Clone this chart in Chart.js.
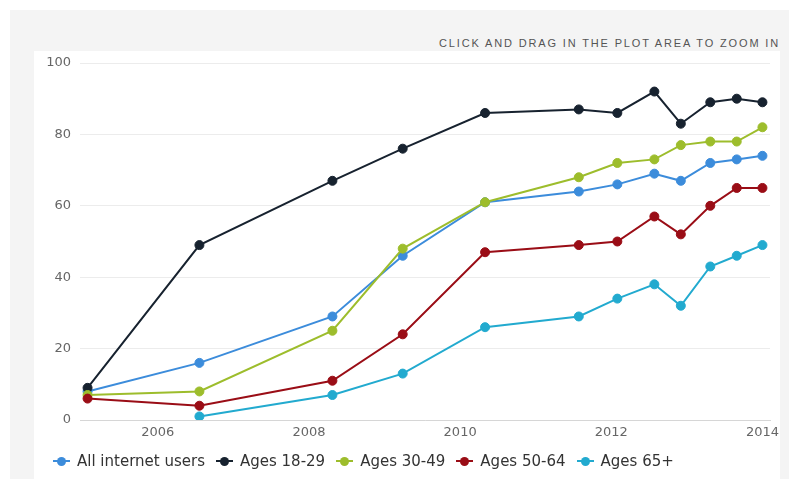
<!DOCTYPE html>
<html>
<head>
<meta charset="utf-8">
<title>Social networking site use by age group</title>
<script src="https://cdn.jsdelivr.net/npm/chart.js@4.4.1/dist/chart.umd.min.js"></script>
<style>
  html, body { margin: 0; padding: 0; background: #fff; }
  #wrap { position: relative; width: 789px; height: 479px; overflow: hidden; }
  #frame { position: absolute; left: 10px; top: 10px; right: 0; bottom: 0; background: #f4f4f4; }
  #panel { position: absolute; left: 34px; top: 51px; width: 746px; bottom: 0; background: #fff; }
  #zoomHint {
    position: absolute; right: 9px; top: 37px;
    font: 11px "Liberation Sans", Arial, sans-serif; letter-spacing: 1.85px;
    color: #555; white-space: nowrap;
  }
  #chart { position: absolute; left: 0; top: 0; }
  #legend {
    position: absolute; left: 53px; top: 452px; height: 18px;
    display: flex; align-items: center;
    font: 15px "DejaVu Sans", sans-serif; color: #333; white-space: nowrap;
  }
  .item { display: flex; align-items: center; margin-right: 11px; }
  .mark { position: relative; width: 17px; height: 10px; margin-right: 7px; }
  .mark .ln { position: absolute; left: 0; right: 0; top: 4px; height: 2px; }
  .mark .dot { position: absolute; left: 4px; top: 1px; width: 9px; height: 9px; border-radius: 50%; margin-top: -0.5px; }
</style>
</head>
<body>
<div id="wrap">
  <div id="frame"></div>
  <div id="panel"></div>
  <div id="zoomHint">CLICK AND DRAG IN THE PLOT AREA TO ZOOM IN</div>
  <canvas id="chart" width="789" height="479"></canvas>
  <div id="legend"></div>
</div>
<script>
// survey dates as decimal years
var years = [2005.07, 2006.55, 2008.31, 2009.24, 2010.33, 2011.57, 2012.08, 2012.57, 2012.92, 2013.31, 2013.66, 2014.0];

var allUsers   = [8, 16, 29, 46, 61, 64, 66, 69, 67, 72, 73, 74];
var ages18to29 = [9, 49, 67, 76, 86, 87, 86, 92, 83, 89, 90, 89];
var ages30to49 = [7, 8, 25, 48, 61, 68, 72, 73, 77, 78, 78, 82];
var ages50to64 = [6, 4, 11, 24, 47, 49, 50, 57, 52, 60, 65, 65];
var ages65plus = [null, 1, 7, 13, 26, 29, 34, 38, 32, 43, 46, 49];

var seriesNames  = ["All internet users", "Ages 18-29", "Ages 30-49", "Ages 50-64", "Ages 65+"];
var seriesValues = [allUsers, ages18to29, ages30to49, ages50to64, ages65plus];
var seriesColors = ["#3c8cdb", "#17222f", "#9dbd2c", "#9a0d16", "#22aacf"];

var yearTicks  = [2006, 2008, 2010, 2012, 2014];
var valueTicks = [0, 20, 40, 60, 80, 100];

var tickFont = { family: "DejaVu Sans", size: 13 };

var datasets = [];
for (var i = 0; i < seriesNames.length; i++) {
    datasets.push({
        label: seriesNames[i],
        data: years.map(function (yr, j) { return { x: yr, y: seriesValues[i][j] }; }),
        borderColor: seriesColors[i],
        backgroundColor: seriesColors[i],
        borderWidth: 2,
        pointRadius: 4.5,
        pointBorderWidth: 1,
        tension: 0,
        // later series sit on top
        order: seriesNames.length - i
    });
}

var ctx = document.getElementById("chart").getContext("2d");

var chart = new Chart(ctx, {
    type: 'line',
    data: { datasets: datasets },
    options: {
        responsive: false,
        animation: false,
        layout: { padding: { left: 0, right: 19, top: 63, bottom: 35 } },
        plugins: {
            legend: { display: false },
            tooltip: { enabled: false }
        },
        scales: {
            x: {
                type: 'linear',
                min: 2004.97,
                max: 2014.1,
                afterBuildTicks: function (scale) {
                    scale.ticks = yearTicks.map(function (v) { return { value: v }; });
                },
                afterFit: function (scale) { scale.height = 24; },
                ticks: {
                    autoSkip: false, maxRotation: 0, padding: 5,
                    color: "#666", font: tickFont,
                    callback: function (v) { return String(v); }
                },
                grid: { display: false, drawTicks: false },
                border: { display: true, color: "#d6d6d6", width: 1 }
            },
            y: {
                min: 0,
                max: 100,
                afterBuildTicks: function (scale) {
                    scale.ticks = valueTicks.map(function (v) { return { value: v }; });
                },
                afterFit: function (scale) { scale.width = 80; },
                ticks: { padding: 9, color: "#666", font: tickFont },
                grid: { color: "#ececec", drawTicks: false },
                border: { display: false }
            }
        }
    }
});

// html legend built from the datasets
var legend = document.getElementById("legend");
chart.data.datasets.forEach(function (ds) {
    var item = document.createElement("div");
    item.className = "item";
    var mark = document.createElement("span");
    mark.className = "mark";
    mark.innerHTML = '<span class="ln" style="background:' + ds.borderColor + '"></span>' +
                     '<span class="dot" style="background:' + ds.borderColor + '"></span>';
    var txt = document.createElement("span");
    txt.textContent = ds.label;
    item.appendChild(mark);
    item.appendChild(txt);
    legend.appendChild(item);
});
</script>
</body>
</html>
